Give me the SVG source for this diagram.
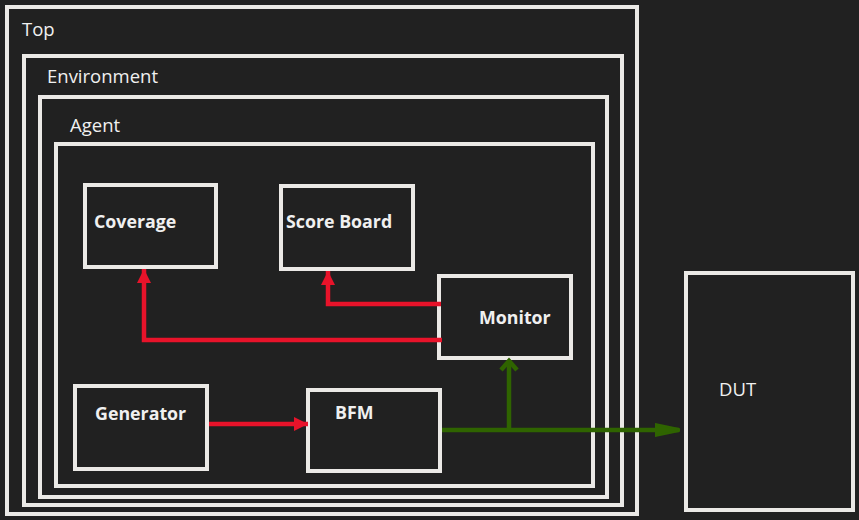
<svg xmlns="http://www.w3.org/2000/svg" width="859" height="520" viewBox="0 0 859 520">
<style>
.frame{fill:#212121;stroke:#ebe9e6;stroke-width:4}
.lbl{font-family:"Open Sans","Noto Sans",sans-serif;font-size:18.5px;fill:#f0f0f0}
.nl{font-family:"Open Sans","Noto Sans",sans-serif;font-size:17.8px;font-weight:bold;fill:#f0f0f0}
.red{fill:none;stroke:#e8132a;stroke-width:4.5}
.grn{fill:none;stroke:#2f6400;stroke-width:4.5}
</style>
<defs>
<marker id="ar" markerUnits="userSpaceOnUse" markerWidth="16" markerHeight="16" refX="14" refY="7" orient="auto">
<path d="M0,0 L14,7 L0,14 Z" fill="#e8132a"/>
</marker>
<marker id="ag" markerUnits="userSpaceOnUse" markerWidth="26" markerHeight="16" refX="24" refY="7" orient="auto">
<path d="M0,1 L24,6 L24,8 L0,13 Z" fill="#2f6400" stroke="#2f6400" stroke-width="2" stroke-linejoin="round"/>
</marker>
<marker id="ao" markerUnits="userSpaceOnUse" markerWidth="20" markerHeight="20" refX="12" refY="10" orient="auto">
<path d="M3,2 L12,10 L3,18" fill="none" stroke="#2f6400" stroke-width="4.5"/>
</marker>
</defs>
<rect width="859" height="520" fill="#212121"/>
<g id="top"><rect class="frame" x="7" y="7" width="630" height="507"/><text class="lbl" x="22" y="36">Top</text></g>
<g id="environment"><rect class="frame" x="24" y="56" width="598" height="449"/><text class="lbl" x="47" y="83">Environment</text></g>
<g id="agent"><rect class="frame" x="40" y="97" width="567" height="400"/><text class="lbl" x="70" y="132">Agent</text></g>
<g id="agent-inner"><rect class="frame" x="56" y="144" width="537" height="342"/></g>
<g id="coverage"><rect class="frame" x="85" y="185" width="131" height="82"/><text class="nl" x="94" y="228">Coverage</text></g>
<g id="scoreboard"><rect class="frame" x="281" y="186" width="132" height="83"/><text class="nl" x="286" y="228">Score Board</text></g>
<g id="monitor"><rect class="frame" x="439" y="276" width="132" height="82"/><text class="nl" x="479" y="324">Monitor</text></g>
<g id="generator"><rect class="frame" x="75" y="386" width="132" height="83"/><text class="nl" x="95" y="420">Generator</text></g>
<g id="bfm"><rect class="frame" x="308" y="390" width="132" height="81"/><text class="nl" x="335" y="419">BFM</text></g>
<g id="dut"><rect class="frame" x="686" y="273" width="167" height="237"/><text class="lbl" x="719" y="396">DUT</text></g>
<g id="connectors">
<path class="red" d="M209,424 H308" marker-end="url(#ar)"/>
<path class="red" d="M441,304 H328 V271" marker-end="url(#ar)"/>
<path class="red" d="M442,340 H144 V269" marker-end="url(#ar)"/>
<path class="grn" d="M442,430 H679" marker-end="url(#ag)"/>
<path class="grn" d="M509,430 V361" marker-end="url(#ao)"/>
</g>
</svg>
